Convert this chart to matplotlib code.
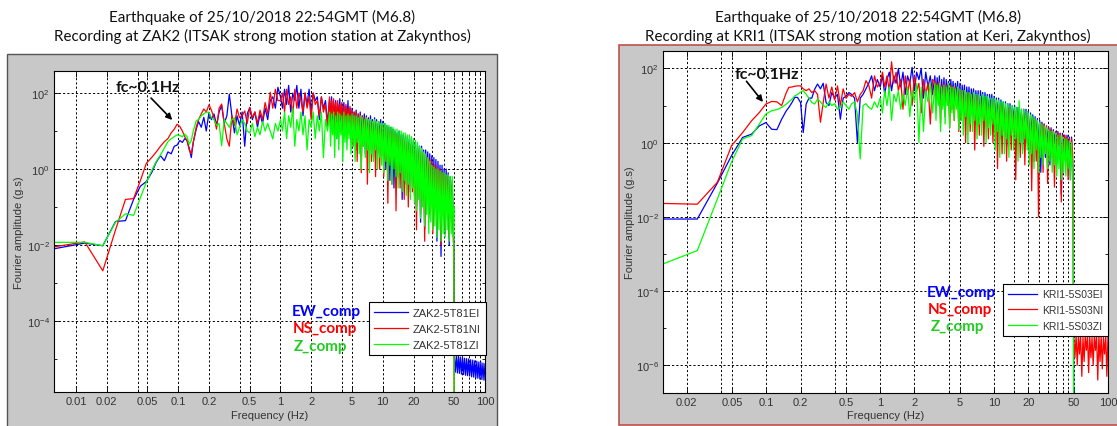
import numpy as np
import matplotlib
matplotlib.use("Agg")
import matplotlib.pyplot as plt
from matplotlib.patches import Rectangle
from matplotlib.ticker import FixedLocator, FixedFormatter, NullFormatter
from matplotlib.lines import Line2D

# ---------------- DATA (amplitudes stored as log10 of g.s) ----------------
titles_zak2 = ["Earthquake of 25/10/2018 22:54GMT (M6.8)",
               "Recording at ZAK2 (ITSAK strong motion station at Zakynthos)"]
titles_kri1 = ["Earthquake of 25/10/2018 22:54GMT (M6.8)",
               "Recording at KRI1 (ITSAK strong motion station at Keri, Zakynthos)"]
legend_zak2 = ["ZAK2-5T81EI", "ZAK2-5T81NI", "ZAK2-5T81ZI"]
legend_kri1 = ["KRI1-5S03EI", "KRI1-5S03NI", "KRI1-5S03ZI"]
comp_labels = ["EW_comp", "NS_comp", "Z_comp"]

mid_freq = [0.150, 0.158, 0.168, 0.178, 0.188, 0.200, 0.211, 0.224, 0.237, 0.251, 0.266,
            0.282, 0.299, 0.316, 0.335, 0.355, 0.376, 0.398, 0.422, 0.447, 0.473, 0.501,
            0.531, 0.562, 0.596, 0.631, 0.668, 0.708, 0.750, 0.794, 0.841, 0.891, 0.944]
dense_freq = [1.000, 1.047, 1.096, 1.148, 1.202, 1.259, 1.318, 1.380, 1.445, 1.514,
              1.585, 1.660, 1.738, 1.820, 1.905, 1.995, 2.089, 2.188, 2.291, 2.399,
              2.512, 2.630, 2.754, 2.884,
              3.020, 3.090, 3.162, 3.236, 3.311, 3.388, 3.467, 3.548, 3.631, 3.715,
              3.802, 3.890, 3.981, 4.074, 4.169, 4.266, 4.365, 4.467, 4.571, 4.677,
              4.786, 4.898, 5.012, 5.129, 5.248, 5.370, 5.495, 5.623, 5.754, 5.888,
              6.026, 6.166, 6.310, 6.457, 6.607, 6.761, 6.918, 7.079, 7.244, 7.413,
              7.586, 7.762, 7.943, 8.128, 8.318, 8.511, 8.710, 8.913, 9.120, 9.333,
              9.550, 9.772,
              10.00, 10.23, 10.47, 10.72, 10.96, 11.22, 11.48, 11.75, 12.02, 12.30,
              12.59, 12.88, 13.18, 13.49, 13.80, 14.13, 14.45, 14.79, 15.14, 15.49,
              15.85, 16.22, 16.60, 16.98, 17.38, 17.78, 18.20, 18.62, 19.05, 19.50,
              19.95, 20.42, 20.89, 21.38, 21.88, 22.39, 22.91, 23.44, 23.99, 24.55,
              25.12, 25.70, 26.30, 26.92, 27.54, 28.18, 28.84, 29.51, 30.20, 30.90,
              31.62, 32.36, 33.11, 33.88, 34.67, 35.48, 36.31, 37.15, 38.02, 38.90,
              39.81, 40.74, 41.69, 42.66, 43.65, 44.67, 45.71, 46.77, 47.86, 48.98,
              49.50]
tail_freq = [50.0, 51.2, 52.5, 53.7, 55.0, 56.2, 57.5, 58.9, 60.3, 61.7, 63.1, 64.6, 66.1,
             67.6, 69.2, 70.8, 72.4, 74.1, 75.9, 77.6, 79.4, 81.3, 83.2, 85.1, 87.1, 89.1,
             91.2, 93.3, 95.5, 97.7, 100.0]
drop_freq = [50.0]

# ---- ZAK2 ----
zak2_low_freq = [0.0061, 0.0122, 0.0183, 0.0244, 0.0305, 0.0366, 0.0427, 0.0488, 0.0549,
                 0.0610, 0.0671, 0.0732, 0.0793, 0.0854, 0.0915, 0.0976, 0.1037, 0.1098,
                 0.1159, 0.1220, 0.1281, 0.1342, 0.1403]
zak2_ew = ([-2.1, -1.95, -2.02, -1.38, -1.36, -0.8, -0.45, -0.33, -0.1, 0.18, 0.35, 0.22,
            0.45, 0.4, 0.6, 0.63, 0.75, 0.7, 0.8, 0.75, 0.55, 0.3, 0.7] +
           [1.05, 1.25, 1.1, 1.36, 1.0, 1.49, 1.3, 1.45, 1.15, 1.5, 1.67, 1.2, 1.4, 1.97,
            1.4, 0.95, 1.4, 1.15, 1.5, 0.6, 1.45, 1.62, 1.3, 1.5, 1.1, 1.45, 1.2, 1.6, 1.3,
            1.8, 1.9, 1.6, 2.15] +
           [1.9, 1.6, 2.1, 1.7, 2.2, 1.5, 2.0, 1.8, 2.2, 1.6, 2.1, 1.4, 2.0, 1.7, 2.1, 1.5,
            2.0, 1.8, 1.9, 1.3, 1.9, 1.6, 1.8, 1.2] +
           [1.85, 1.2, 1.9, 1.0, 1.75, 1.3, 1.8, 0.8, 1.7, 1.25, 1.85, 1.1, 1.7, 1.3, 1.75,
            0.9, 1.65, 1.2, 1.8, 1.05, 1.6, 1.15] +
           [1.6, 0.8, 1.5, 1.0, 1.55, 0.5, 1.45, 0.9, 1.5, 0.7, 1.4, 1.0, 1.45, 0.4, 1.4,
            0.8, 1.35, 0.6, 1.4, 0.9, 1.3, 0.3, 1.35, 0.7, 1.3, 0.5, 1.25, 0.8, 1.3, 0.35] +
           [1.25, 0.3, 1.2, 0.0, 1.15, 0.4, 1.1, -0.3, 1.1, 0.2, 1.05, -0.5, 1.0, 0.3, 0.95,
            -0.2, 1.0, 0.1, 0.9, -0.8, 0.9, 0.0, 0.85, -0.4, 0.85, 0.1, 0.8, -0.6, 0.8, -0.1] +
           [0.75, -0.5, 0.7, -1.0, 0.65, -0.3, 0.6, -1.4, 0.6, -0.7, 0.5, -1.6, 0.5, -0.4,
            0.45, -1.2, 0.4, -0.9, 0.35, -1.5] +
           [0.3, -1.0, 0.25, -1.9, 0.2, -0.8, 0.1, -2.3, 0.1, -1.2, 0.0, -1.7, 0.0, -1.0,
            -0.1, -2.0, -0.2, -1.3, -0.3, -1.6, -1.8])
zak2_ns = ([-2.05, -1.92, -2.68, -1.6, -0.8, -0.78, -0.3, 0.15, 0.3, 0.45, 0.6, 0.72,
            0.8, 0.95, 1.05, 1.18, 1.12, 1.0, 0.85, 0.75, 0.5, 0.4, 0.7] +
           [1.1, 1.3, 1.45, 1.58, 1.5, 1.69, 1.55, 1.35, 1.05, 1.6, 1.71, 1.2, 0.79, 0.6,
            1.4, 1.15, 1.58, 1.35, 1.4, 1.53, 1.2, 1.62, 1.35, 1.5, 1.2, 1.55, 1.3, 1.75,
            1.45, 2.02, 1.6, 2.1, 1.8] +
           [1.8, 2.0, 1.5, 2.1, 1.7, 1.9, 1.4, 2.1, 1.6, 2.0, 1.8, 1.5, 2.0, 1.6, 1.9, 1.3,
            2.0, 1.7, 1.8, 1.4, 1.9, 1.5, 1.7, 1.1] +
           [1.9, 1.1, 1.8, 1.4, 1.85, 0.9, 1.75, 1.3, 1.8, 1.0, 1.7, 1.35, 1.75, 0.8, 1.65,
            1.2, 1.7, 1.0, 1.6, 1.3, 1.65, 0.85] +
           [1.55, 0.6, 1.5, 1.0, 1.5, 0.2, 1.45, 0.8, 1.4, -0.1, 1.4, 0.6, 1.35, 0.9, 1.35,
            -0.4, 1.3, 0.5, 1.3, 0.2, 1.25, 0.7, 1.25, -0.2, 1.2, 0.4, 1.2, 0.0, 1.15, 0.6] +
           [1.15, -0.2, 1.1, 0.3, 1.05, -0.9, 1.0, 0.2, 1.0, -0.4, 0.95, 0.4, 0.9, -1.1, 0.9,
            0.0, 0.85, -0.5, 0.8, 0.2, 0.8, -0.8, 0.75, -0.1, 0.7, -1.0, 0.7, 0.1, 0.65, -0.6] +
           [0.6, -0.7, 0.55, -1.6, 0.5, -0.3, 0.5, -1.2, 0.45, -0.8, 0.4, -1.9, 0.35, -0.5,
            0.3, -1.3, 0.25, -0.9, 0.2, -1.7] +
           [0.1, -1.0, 0.1, -1.5, 0.0, -0.8, 0.0, -2.0, -0.1, -1.1, -0.1, -1.6, -0.2, -0.9,
            -0.2, -1.8, -0.3, -1.2, -0.4, -1.9, -2.0])
zak2_z = ([-1.93, -1.93, -2.02, -1.4, -1.18, -1.22, -0.75, -0.35, -0.05, 0.2, 0.37, 0.55,
           0.72, 0.8, 0.85, 0.9, 0.88, 0.85, 0.92, 0.85, 0.65, 0.75, 1.0] +
          [1.27, 1.3, 1.4, 1.45, 1.5, 1.49, 1.35, 1.3, 1.15, 1.2, 0.61, 1.3, 1.2, 1.1, 1.3,
           1.35, 0.9, 1.1, 1.3, 1.2, 1.0, 0.95, 1.2, 0.85, 1.1, 0.9, 1.25, 1.0, 1.2, 1.0,
           0.79, 1.2, 1.0] +
          [1.3, 1.0, 1.5, 0.8, 1.4, 1.1, 1.6, 0.6, 1.3, 1.0, 1.5, 0.9, 1.4, 0.5, 1.3, 1.1,
           1.5, 0.8, 1.4, 1.0, 1.5, 0.3, 1.3, 1.0] +
          [1.5, 0.6, 1.45, 0.9, 1.5, 0.3, 1.4, 0.8, 1.5, 0.5, 1.45, 0.9, 1.4, 0.2, 1.5,
           0.7, 1.4, 0.5, 1.45, 0.8, 1.4, 0.4] +
          [1.45, 0.6, 1.4, 0.2, 1.4, 0.7, 1.35, 0.4, 1.4, 0.0, 1.35, 0.6, 1.3, 0.3, 1.35,
           0.5, 1.3, -0.1, 1.3, 0.4, 1.25, 0.2, 1.3, 0.5, 1.25, 0.0, 1.25, 0.3, 1.2, 0.1] +
          [1.2, -0.1, 1.2, 0.2, 1.15, -0.3, 1.15, 0.1, 1.1, -0.4, 1.1, 0.0, 1.05, -0.2, 1.05,
           -0.5, 1.0, -0.1, 1.0, -0.6, 0.95, -0.3, 0.95, -0.7, 0.9, -0.4, 0.9, -0.8, 0.85, -0.5] +
          [0.8, -0.9, 0.75, -1.1, 0.7, -0.8, 0.6, -1.3, 0.55, -1.0, 0.45, -1.5, 0.4, -1.2,
           0.3, -1.7, 0.2, -1.4, 0.1, -1.6] +
          [0.05, -1.5, 0.0, -1.8, 0.0, -1.6, -0.05, -1.9, -0.1, -1.7, -0.1, -1.8, -0.15, -1.6,
           -0.15, -1.9, -0.2, -1.7, -0.2, -1.8, -1.0])
zak2_ew_tail = [-4.9, -5.35, -4.92, -5.37, -4.93, -5.38, -4.95, -5.4, -4.96, -5.41,
                -4.98, -5.43, -4.99, -5.44, -5.0, -5.45, -5.02, -5.47, -5.03, -5.48,
                -5.05, -5.5, -5.06, -5.51, -5.08, -5.53, -5.09, -5.54, -5.11, -5.56, -5.13]
zak2_ns_tail = [-8.0]
zak2_z_tail = [-8.0]

# ---- KRI1 ----
kri1_low_freq = [0.0124, 0.0248, 0.0372, 0.0496, 0.0620, 0.0744, 0.0868, 0.0992, 0.1116,
                 0.1240, 0.1364]
kri1_ew = ([-2.06, -2.06, -1.09, -0.35, 0.14, 0.23, 0.45, 0.54, 0.36, 0.35, 0.63] +
           [0.86, 0.95, 1.08, 1.22, 1.22, 1.08, 0.27, 1.04, 1.2, 1.2, 1.44, 1.58, 1.45, 1.6,
            1.08, 1.0, 1.35, 1.2, 1.3, 0.63, 1.2, 1.25, 1.35, 1.3, 1.2, 0.0, 1.2, 1.3, 1.45,
            1.6, 1.8, 1.4, 1.7] +
           [1.5, 1.8, 1.3, 1.7, 1.9, 1.4, 1.8, 1.6, 2.0, 1.5, 1.9, 1.3, 1.8, 1.6, 2.03, 1.4,
            1.9, 1.7, 2.0, 1.2, 1.9, 1.5, 1.8, 1.3] +
           [1.8, 1.1, 1.75, 1.3, 1.8, 0.9, 1.7, 1.2, 1.75, 1.0, 1.7, 1.3, 1.65, 0.8, 1.7,
            1.15, 1.65, 1.0, 1.6, 1.25, 1.65, 0.9] +
           [1.6, 0.8, 1.55, 1.1, 1.55, 0.6, 1.5, 1.0, 1.5, 0.7, 1.45, 1.1, 1.45, 0.5, 1.4,
            0.9, 1.4, 0.6, 1.4, 1.0, 1.35, 0.45, 1.35, 0.8, 1.3, 0.6, 1.3, 0.9, 1.3, 0.4] +
           [1.25, 0.4, 1.2, 0.7, 1.2, 0.1, 1.15, 0.6, 1.1, 0.3, 1.1, -0.1, 1.05, 0.5, 1.05,
            0.2, 1.0, 0.6, 1.0, 0.0, 0.95, 0.4, 0.95, 0.2, 0.9, -0.2, 0.9, 0.4, 0.9, 0.1] +
           [0.85, -0.3, 0.8, 0.2, 0.75, -0.5, 0.7, 0.1, 0.65, -0.2, 0.6, -0.8, 0.55, 0.0,
            0.5, -0.4, 0.45, 0.0, 0.4, -0.6] +
           [0.4, -0.4, 0.35, 0.0, 0.3, -0.6, 0.3, -0.1, 0.25, -1.4, 0.25, -0.3, 0.2, -0.5,
            0.2, -0.2, 0.15, -1.0, 0.15, -0.6, -1.3])
kri1_ns = ([-1.64, -1.66, -1.07, -0.08, 0.27, 0.59, 0.81, 1.04, 1.11, 1.1, 1.0] +
           [1.35, 1.49, 1.5, 1.52, 1.53, 1.53, 1.45, 1.4, 1.45, 1.35, 1.4, 1.3, 0.55, 1.08,
            1.58, 1.2, 1.5, 1.15, 1.53, 1.0, 1.45, 1.2, 1.3, 1.25, 1.35, 1.1, 1.3, 1.4, 1.67,
            1.55, 1.2, 1.8, 1.5] +
           [1.6, 1.9, 1.5, 1.8, 1.4, 2.18, 1.6, 1.9, 1.4, 1.7, 0.9, 1.8, 1.3, 1.7, 1.0, 1.8,
            1.4, 1.6, 0.8, 1.7, 1.3, 1.6, 0.5, 1.7] +
           [1.65, 0.9, 1.6, 1.2, 1.65, 0.5, 1.55, 1.0, 1.6, 0.7, 1.55, 1.1, 1.5, 0.4, 1.55,
            0.9, 1.5, 0.6, 1.5, 1.0, 1.45, 0.3] +
           [1.45, 0.6, 1.4, 0.9, 1.4, 0.0, 1.35, 0.7, 1.35, 0.3, 1.3, 0.8, 1.3, -0.2, 1.25,
            0.6, 1.25, 0.2, 1.2, 0.7, 1.2, -0.1, 1.15, 0.5, 1.15, 0.1, 1.1, 0.6, 1.1, 0.0] +
           [1.1, 0.3, 1.05, -0.7, 1.05, 0.2, 1.0, -0.3, 1.0, 0.4, 0.95, -0.5, 0.95, 0.1, 0.9,
            -0.2, 0.9, 0.3, 0.85, -1.0, 0.85, 0.0, 0.8, -0.4, 0.8, 0.2, 0.8, -0.6, 0.75, 0.0] +
           [0.7, -0.2, 0.7, -1.3, 0.65, 0.0, 0.6, -0.5, 0.6, -2.0, 0.55, -0.2, 0.5, -0.8,
            0.5, 0.0, 0.45, -1.1, 0.4, -0.3] +
           [0.35, -0.3, 0.3, -1.2, 0.3, -0.4, 0.25, 0.0, 0.25, -1.6, 0.2, -0.5, 0.2, -0.2,
            0.15, -1.0, 0.1, -0.6, 0.1, -0.3, -2.4])
kri1_z = ([-3.27, -2.91, -1.52, -0.52, 0.1, 0.19, 0.5, 0.77, 0.86, 0.89, 0.95] +
          [1.04, 1.1, 1.17, 1.26, 1.3, 1.36, 1.4, 1.3, 1.2, 1.08, 1.04, 1.17, 1.1, 1.0, 0.95,
           1.1, 1.0, 1.05, 0.9, 0.95, 1.1, 1.0, 0.9, 1.05, 1.1, 0.75, -0.44, 1.0, 1.05, 0.95,
           0.9, 1.1, 0.95] +
          [1.2, 0.8, 1.4, 1.0, 1.5, 0.6, 1.3, 1.1, 1.4, 0.9, 1.3, 1.0, 1.5, 0.7, 1.4, 1.1,
           1.6, 0.0, 1.5, 0.3, 1.4, 1.1, 1.6, 0.8] +
          [1.6, 0.6, 1.55, 1.0, 1.6, 0.3, 1.5, 0.9, 1.55, 0.5, 1.5, 1.0, 1.6, 0.4, 1.5,
           0.8, 1.5, 0.6, 1.45, 0.9, 1.5, 0.35] +
          [1.45, 0.6, 1.4, 0.2, 1.4, 0.7, 1.35, 0.0, 1.35, 0.5, 1.3, 0.3, 1.35, 0.6, 1.3,
           0.1, 1.3, 0.5, 1.25, 0.2, 1.3, 0.6, 1.25, 0.0, 1.25, 0.4, 1.2, 0.2, 1.2, 0.5] +
          [1.2, -0.2, 1.15, 0.3, 1.15, -0.4, 1.1, 0.2, 1.1, -0.3, 1.05, 0.1, 1.05, -0.4, 1.0,
           0.2, 1.0, -0.2, 0.95, 0.1, 0.95, -0.5, 1.13, 0.0, 0.9, -0.3, 0.9, 0.1, 0.85, -0.2] +
          [0.8, -0.6, 0.75, -0.3, 0.7, -0.7, 0.65, -0.2, 0.6, -0.8, 0.55, -0.4, 0.5, -0.6,
           0.45, -0.3, 0.4, -0.7, 0.35, -0.5] +
          [0.3, -0.8, 0.3, -0.6, 0.25, -0.9, 0.2, -0.7, 0.2, -1.0, 0.15, -0.8, 0.1, -0.9,
           0.1, -0.7, 0.05, -1.0, 0.0, -0.9, -2.0])
kri1_ns_tail = [-5.2, -5.8, -5.2, -6.0, -5.2, -5.7, -5.2, -6.3, -5.25, -5.9,
                -5.2, -5.6, -5.2, -6.2, -5.2, -5.8, -5.25, -6.0, -5.2, -5.6,
                -5.2, -6.4, -5.2, -5.9, -5.2, -6.1, -5.25, -5.7, -5.2, -6.3, -5.2]
kri1_ew_tail = [-8.0]
kri1_z_tail = [-8.0]

zak2_xticks = [0.01, 0.02, 0.05, 0.1, 0.2, 0.5, 1, 2, 5, 10, 20, 50, 100]
zak2_xticklabels = ["0.01", "0.02", "0.05", "0.1", "0.2", "0.5", "1", "2", "5", "10", "20", "50", "100"]
zak2_xminor = [0.04, 0.4, 4, 30, 40, 60, 70, 80, 90]
kri1_xticks = [0.02, 0.05, 0.1, 0.2, 0.5, 1, 2, 5, 10, 20, 50, 100]
kri1_xticklabels = ["0.02", "0.05", "0.1", "0.2", "0.5", "1", "2", "5", "10", "20", "50", "100"]
kri1_xminor = [0.04, 0.4, 4, 15, 25, 30, 35, 40, 45]
zak2_yexp = [-4, -2, 0, 2]
kri1_yexp = [-6, -4, -2, 0, 2]

COLORS = ["#0000ff", "#ff0000", "#00ff00"]
COMP_COLORS = ["#0000ff", "#ff0000", "#22cc22"]

# ---------------- FIGURE ----------------
W, H = 1117, 427
fig = plt.figure(figsize=(W / 100, H / 100), dpi=100)
fig.patch.set_facecolor("white")

def fx(px):
    return px / W

def fy(py):
    return 1 - py / H

fig.patches.append(Rectangle((fx(7), -0.02), fx(490), fy(55) + 0.02, transform=fig.transFigure,
                             facecolor="#c8c8c8", edgecolor="#555555", lw=1.0, zorder=-5))
fig.patches.append(Rectangle((fx(619), fy(426)), 0.5, (426 - 45.7) / H, transform=fig.transFigure,
                             facecolor="#c8c8c8", edgecolor="#c0504d", lw=1.2, zorder=-5))

TICKFONT = "Liberation Sans"
TXTCOL = "#333333"

def build(ax_rect, low_freq, series, tails, tail_freqs, xlim, ylim, xticks, xlabels, xminor,
          yexp, leg_labels, leg_anchor, ylab_x, xlab_y, leg_size, leg_hlen):
    ax = fig.add_axes(ax_rect)
    ax.set_zorder(1)
    ax.set_facecolor("white")
    ax.set_xscale("log")
    ax.set_yscale("log")
    main_freq = low_freq + mid_freq + dense_freq
    for s, t, tf, c in zip(series, tails, tail_freqs, COLORS):
        f = np.array(main_freq + tf)
        a = 10.0 ** np.array(s + t)
        ax.plot(f, a, color=c, lw=0.9)
    ax.set_xlim(*xlim)
    ax.set_ylim(*ylim)
    ax.xaxis.set_major_locator(FixedLocator(xticks))
    ax.xaxis.set_major_formatter(FixedFormatter(xlabels))
    ax.xaxis.set_minor_locator(FixedLocator(xminor))
    ax.xaxis.set_minor_formatter(NullFormatter())
    yt = [10.0 ** e for e in yexp]
    ax.yaxis.set_major_locator(FixedLocator(yt))
    ax.yaxis.set_major_formatter(FixedFormatter([r"$\mathregular{10^{%d}}$" % e for e in yexp]))
    ax.yaxis.set_minor_locator(FixedLocator([10.0 ** (e + 1) for e in yexp] + [10.0 ** (yexp[0] - 1)]))
    ax.yaxis.set_minor_formatter(NullFormatter())
    gkw = dict(color="k", lw=0.7, ls=(0, (2.2, 2.2)))
    ax.grid(True, which="both", axis="x", **gkw)
    ax.grid(True, which="major", axis="y", **gkw)
    ax.tick_params(which="both", direction="in", top=True, right=True, width=0.6,
                   labelsize=8, labelcolor=TXTCOL, pad=3)
    ax.tick_params(which="major", length=4)
    ax.tick_params(which="minor", length=2)
    for lab in ax.get_xticklabels() + ax.get_yticklabels():
        lab.set_family(TICKFONT)
    for sp in ax.spines.values():
        sp.set_color("k")
        sp.set_linewidth(0.8)
    ax.set_xlabel("Frequency (Hz)", fontsize=8, family=TICKFONT, color=TXTCOL)
    ax.set_ylabel("Fourier amplitude (g.s)", fontsize=8, family=TICKFONT, color=TXTCOL)
    ax.xaxis.set_label_coords(0.5, xlab_y)
    ax.yaxis.set_label_coords(ylab_x, 0.5)
    handles = [Line2D([], [], color=c, lw=0.9) for c in COLORS]
    leg = ax.legend(handles, leg_labels, loc="upper right", bbox_to_anchor=leg_anchor,
                    bbox_transform=fig.transFigure, prop={"family": TICKFONT, "size": leg_size},
                    frameon=True, fancybox=False, edgecolor="k", framealpha=1,
                    borderpad=0.5, labelspacing=0.55, handlelength=leg_hlen, handletextpad=0.45,
                    borderaxespad=0)
    leg.get_frame().set_linewidth(0.8)
    for t in leg.get_texts():
        t.set_color(TXTCOL)
    return ax

ax1 = build([fx(54), fy(393), fx(431), 321 / H], zak2_low_freq,
            [zak2_ew, zak2_ns, zak2_z], [zak2_ew_tail, zak2_ns_tail, zak2_z_tail],
            [tail_freq, drop_freq, drop_freq],
            (0.0061, 100), (10 ** -5.87, 10 ** 2.58), zak2_xticks, zak2_xticklabels, zak2_xminor,
            zak2_yexp, legend_zak2, (fx(486), fy(303)), -(54 - 24) / 431, -(411 - 393) / 321,
            8, 3.0)
ax2 = build([fx(663), fy(394), fx(445), 342 / H], kri1_low_freq,
            [kri1_ew, kri1_ns, kri1_z], [kri1_ew_tail, kri1_ns_tail, kri1_z_tail],
            [drop_freq, tail_freq, drop_freq],
            (0.0124, 100), (10 ** -6.75, 10 ** 2.47), kri1_xticks, kri1_xticklabels, kri1_xminor,
            kri1_yexp, legend_kri1, (fx(1108), fy(285)), -(663 - 635) / 445, -(411 - 394) / 342,
            7.5, 2.8)

TITLEFONT = "Lato"
for (cx, lines) in [(262, titles_zak2), (868, titles_kri1)]:
    fig.text(fx(cx), fy(17), lines[0], ha="center", va="center", fontsize=10.9,
             family=TITLEFONT, color="#111111")
    fig.text(fx(cx), fy(36), lines[1], ha="center", va="center", fontsize=10.9,
             family=TITLEFONT, color="#111111")

# component labels
for (ys, xs) in [([312, 329, 347], [292, 293, 294]), ([293, 310, 327], [927, 928, 931])]:
    for lab, c, y, x in zip(comp_labels, COMP_COLORS, ys, xs):
        t = fig.text(fx(x), fy(y), lab, ha="left", va="center", fontsize=11, fontweight="bold",
                     family=TITLEFONT, color=c)
        t.set_zorder(5)

# fc annotations
ax1.text(0.0508, 144, "fc~0.1Hz", ha="center", va="center", fontsize=11.5, fontweight="bold",
         family=TITLEFONT, color="#111111")
ax1.annotate("", xy=(0.0914, 17.3), xytext=(0.052, 83),
             arrowprops=dict(arrowstyle="-|>", color="k", lw=1.2, mutation_scale=9))
ax2.text(0.102, 70.2, "fc~0.1Hz", ha="center", va="center", fontsize=11.5, fontweight="bold",
         family=TITLEFONT, color="#111111")
ax2.annotate("", xy=(0.0969, 10.9), xytext=(0.0647, 51.6),
             arrowprops=dict(arrowstyle="-|>", color="k", lw=1.2, mutation_scale=9))

fig.savefig("out.png", dpi=100, facecolor="white")
